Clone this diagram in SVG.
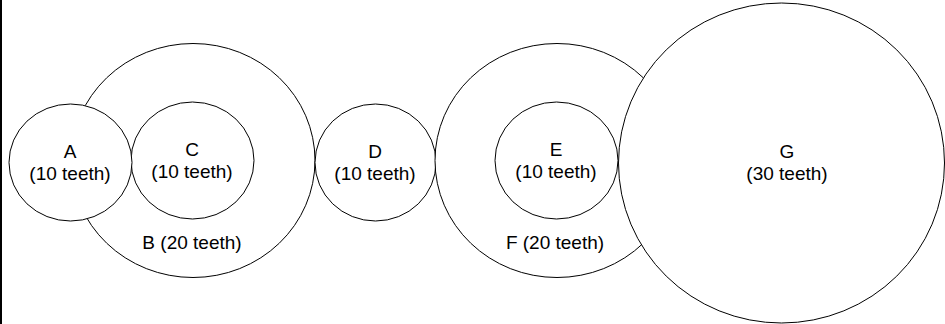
<svg xmlns="http://www.w3.org/2000/svg" width="945" height="324" viewBox="0 0 945 324">
  <style>
    .gear { fill: #ffffff; stroke: #000000; stroke-width: 1; }
    .lbl { font-family: "Liberation Sans", Arial, sans-serif; font-size: 19px; fill: #000000; text-anchor: middle; }
  </style>
  <rect x="0" y="0" width="945" height="324" fill="#ffffff"/>
  <rect x="0" y="0" width="2" height="324" fill="#000000"/>

  <g id="connectors"></g>

  <!-- compound gear B/C -->
  <g id="gear-B">
    <ellipse class="gear" cx="193" cy="160.5" rx="122" ry="117"/>
    <text class="lbl" x="192" y="249">B (20 teeth)</text>
  </g>
  <g id="gear-C">
    <ellipse class="gear" cx="192.5" cy="160.5" rx="61.5" ry="58.5"/>
    <text class="lbl" x="192" y="156">C</text>
    <text class="lbl" x="192" y="178">(10 teeth)</text>
  </g>
  <g id="gear-A">
    <ellipse class="gear" cx="70.5" cy="162.5" rx="61.5" ry="58.5"/>
    <text class="lbl" x="70" y="158">A</text>
    <text class="lbl" x="70" y="180">(10 teeth)</text>
  </g>
  <g id="gear-D">
    <ellipse class="gear" cx="375.5" cy="162.5" rx="60.5" ry="58.5"/>
    <text class="lbl" x="375" y="158">D</text>
    <text class="lbl" x="375" y="180">(10 teeth)</text>
  </g>

  <!-- compound gear F/E -->
  <g id="gear-F">
    <ellipse class="gear" cx="557" cy="160.5" rx="122" ry="117"/>
    <text class="lbl" x="555" y="249">F (20 teeth)</text>
  </g>
  <g id="gear-E">
    <ellipse class="gear" cx="556.5" cy="160.5" rx="61.5" ry="58.5"/>
    <text class="lbl" x="556" y="156">E</text>
    <text class="lbl" x="556" y="178">(10 teeth)</text>
  </g>
  <g id="gear-G">
    <ellipse class="gear" cx="781.5" cy="163" rx="163" ry="160"/>
    <text class="lbl" x="787" y="158">G</text>
    <text class="lbl" x="787" y="180">(30 teeth)</text>
  </g>
</svg>
